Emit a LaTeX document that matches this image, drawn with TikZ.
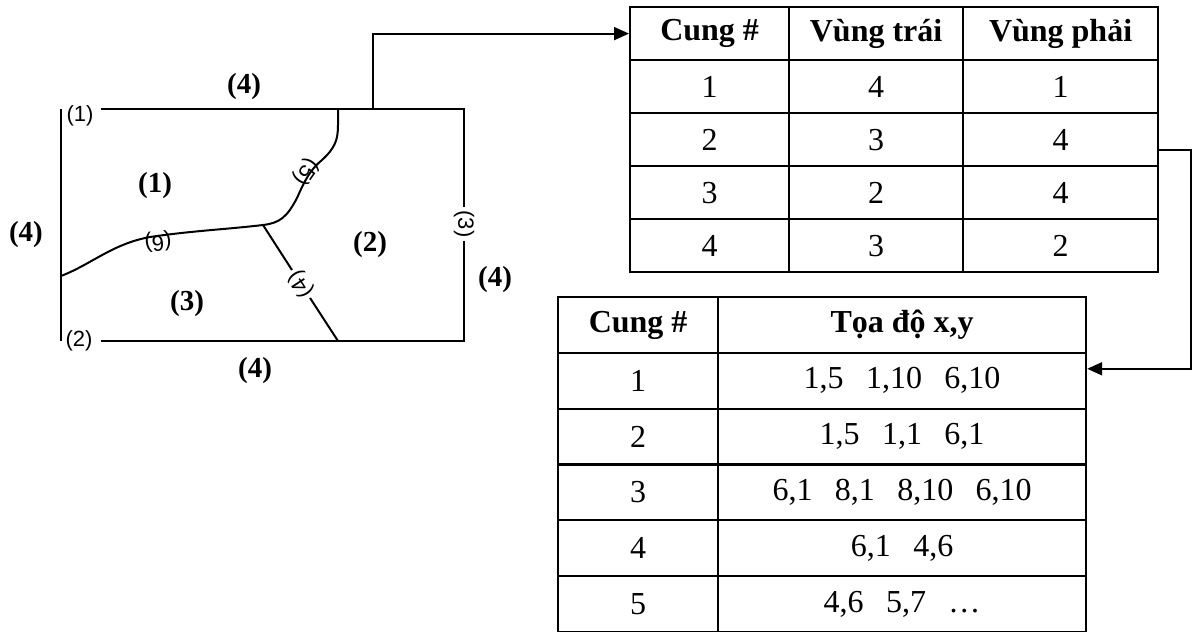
\documentclass[tikz,border=0pt]{standalone}
\usepackage{fontspec}
\setmainfont{Liberation Serif}
\newfontfamily\arialf{Liberation Sans}
\usetikzlibrary{arrows.meta}
\begin{document}
\begin{tikzpicture}[x=1pt,y=-1pt,
  ln/.style={line width=2pt},
  cell/.style={draw, line width=2.2pt, anchor=north west, inner sep=0pt,
    font=\fontsize{32}{38}\selectfont},
  big/.style={font=\fontsize{29}{34}\selectfont\bfseries, inner sep=1pt},
  small/.style={font=\arialf\fontsize{22}{26}\selectfont, inner sep=1pt},
  arclab/.style={small, inner sep=3pt},
  conn/.style={line width=2pt, -{Triangle[length=15pt,width=13pt]}}]
\useasboundingbox (0,0) rectangle (1192,632);

% ---------- table 1 ----------
\foreach \r/\a/\b/\c in {0/{\bfseries Cung \#}/{\bfseries Vùng trái}/{\bfseries Vùng phải},1/1/4/1,2/2/3/4,3/3/2/4,4/4/3/2}{
  \node[cell, minimum width=159pt, minimum height=53pt] (ta-\r-1) at (629,{6+53*\r}) {\a};
  \node[cell, minimum width=174pt, minimum height=53pt] (ta-\r-2) at (788,{6+53*\r}) {\b};
  \node[cell, minimum width=195pt, minimum height=53pt] (ta-\r-3) at (962,{6+53*\r}) {\c};
}

% ---------- table 2 ----------
\foreach \r/\a/\b in {0/{\bfseries Cung \#}/{\bfseries Tọa độ x,y},
  1/1/{1,5\hspace{0.7em}1,10\hspace{0.7em}6,10},
  2/2/{1,5\hspace{0.7em}1,1\hspace{0.7em}6,1},
  3/3/{6,1\hspace{0.7em}8,1\hspace{0.7em}8,10\hspace{0.7em}6,10},
  4/4/{6,1\hspace{0.7em}4,6},
  5/5/{4,6\hspace{0.7em}5,7\hspace{0.7em}…}}{
  \node[cell, minimum width=160pt, minimum height=55.8pt] (tb-\r-1) at (557,{296+55.8*\r}) {\a};
  \node[cell, minimum width=368pt, minimum height=55.8pt] (tb-\r-2) at (717,{296+55.8*\r}) {\b};
}

% ---------- map ----------
\coordinate (lt) at (61,109);
\coordinate (lb) at (61,341);
\coordinate (ts) at (101,109);
\coordinate (tr) at (464,109);
\coordinate (br) at (464,341);
\coordinate (bs) at (101,341);
\coordinate (c0) at (61,276);
\coordinate (j) at (263,225);
\coordinate (ctop) at (338,109);
\coordinate (b4) at (338,341);
\coordinate (tap) at (373,109);

\draw[ln] (lt) -- (lb);
\node[small] (p1) at (80,116) {(1)};
\node[small] (p2) at (79,341) {(2)};

\node[arclab, rotate=-90] (a3) at (464,224) {(3)};
\node[arclab, rotate=123] (a4) at (301,284) {(4)};
\node[small, rotate=-125] (a5) at (306,172) {(5)};
\node[small, rotate=186] (a6) at (158,242) {(6)};

\draw[ln] (ts) -- (tr) -- (a3) -- (br) -- (bs);
\draw[ln] (c0) .. controls (92,264) and (112,244) .. (150,237)
  .. controls (190,231) and (230,229) .. (j)
  .. controls (280,223) and (287,217) .. (297,198)
  .. controls (305,180) and (310,170) .. (322,160)
  .. controls (335,148) and (338,140) .. (338,125) -- (ctop);
\draw[ln] (j) -- (a4) -- (b4);

\node[big] (e4t) at (244,87) {(4)};
\node[big] (e4l) at (26,235) {(4)};
\node[big] (e4r) at (495,280) {(4)};
\node[big] (e4b) at (255,371) {(4)};
\node[big] (r1) at (155,186) {(1)};
\node[big] (r2) at (370,245) {(2)};
\node[big] (r3) at (187,304) {(3)};

% ---------- connectors ----------
\draw[conn] (tap) |- (ta-0-1.west);
\draw[conn] ([yshift=-10pt]ta-2-3.east) -- ++(32,0) |- ([yshift=12pt]tb-1-2.east);
\end{tikzpicture}
\end{document}
